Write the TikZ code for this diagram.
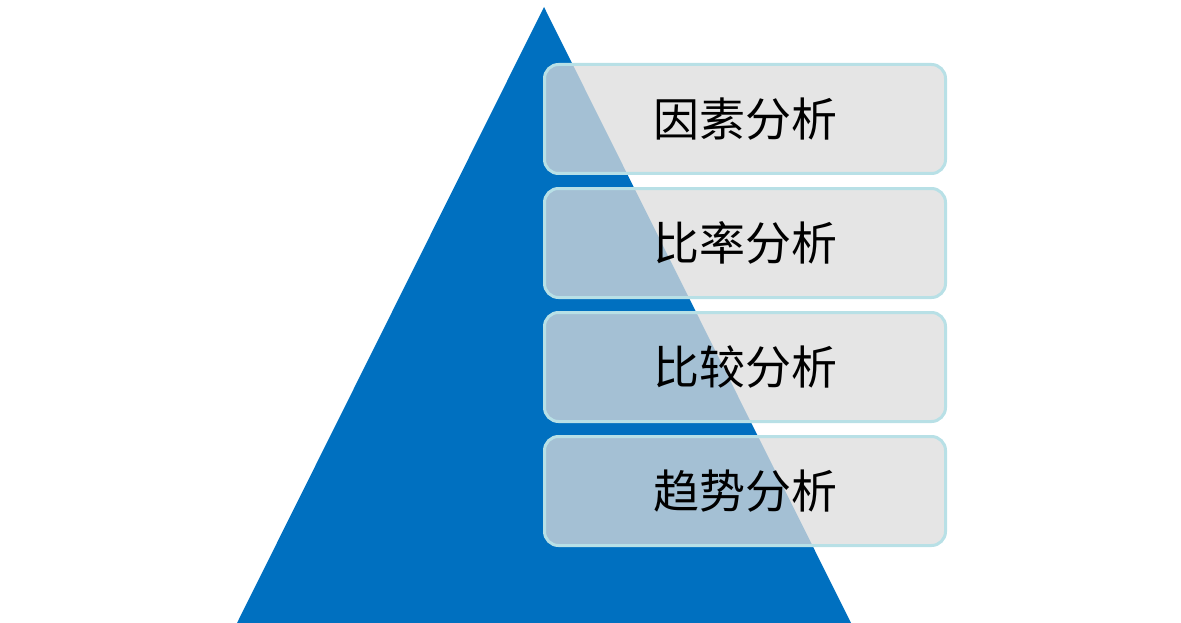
\documentclass[tikz,border=0pt]{standalone}
\usepackage{fontspec}
\newfontfamily\cjk{Noto Sans CJK SC}
\definecolor{pyrblue}{HTML}{0070C0}
\definecolor{boxgray}{HTML}{DCDCDC}
\definecolor{boxedge}{HTML}{B8E0E6}
\tikzset{
  layerbox/.style={draw=boxedge,line width=3pt,fill=boxgray,fill opacity=0.75,text opacity=1,
    rounded corners=14pt,minimum width=401pt,minimum height=109pt,
    font=\cjk\fontsize{46}{50}\selectfont}
}
\begin{document}
\begin{tikzpicture}[x=1pt,y=-1pt]
  \useasboundingbox (0,0) rectangle (1181,623);
  \fill[pyrblue] (544,7) -- (851,623) -- (237,623) -- cycle;
  \node[layerbox] (factor) at (745,119) {因素分析};
  \node[layerbox] (ratio) at (745,243) {比率分析};
  \node[layerbox] (compare) at (745,367) {比较分析};
  \node[layerbox] (trend) at (745,491) {趋势分析};
\end{tikzpicture}
\end{document}
